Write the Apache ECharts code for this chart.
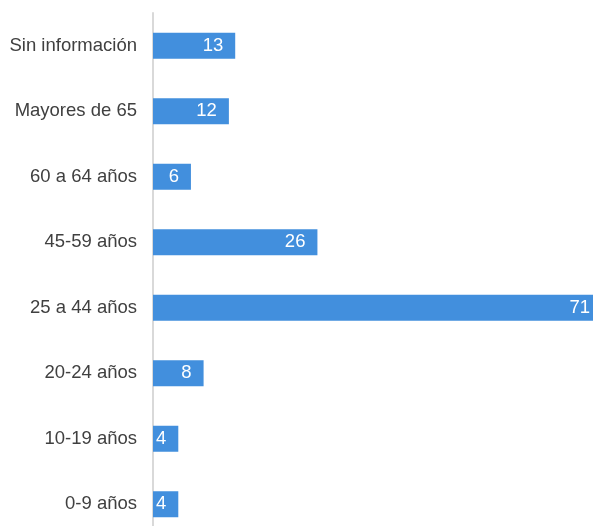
<!DOCTYPE html>
<html><head><meta charset="utf-8">
<script src="https://cdn.jsdelivr.net/npm/echarts@6/dist/echarts.min.js"></script>
<style>html,body{margin:0;padding:0;background:#fff}#c{width:593px;height:526px}</style>
</head><body><div id="c"></div>
<script>
const categories = ["0-9 años","10-19 años","20-24 años","25 a 44 años","45-59 años","60 a 64 años","Mayores de 65","Sin información"];
const values = [4,4,8,71,26,6,12,13];
const chart = echarts.init(document.getElementById('c'), null, {renderer:'canvas'});
chart.setOption({
  animation:false,
  grid:{left:153,top:13,width:449,height:524,outerBoundsMode:'none',containLabel:false},
  xAxis:{type:'value',min:0,max:71,show:false},
  yAxis:{type:'category',data:categories,
    axisLine:{show:true,lineStyle:{color:'#d9d9d9',width:2}},
    axisTick:{show:false},
    axisLabel:{color:'#404040',fontSize:18.5,fontFamily:'Liberation Sans, Arial, sans-serif',margin:16}},
  series:[{type:'bar',data:values,barWidth:26,
    itemStyle:{color:'#428fdd'},
    label:{show:true,position:'insideRight',distance:12,color:'#fff',fontSize:18.5,fontFamily:'Liberation Sans, Arial, sans-serif'}}]
});
</script></body></html>
